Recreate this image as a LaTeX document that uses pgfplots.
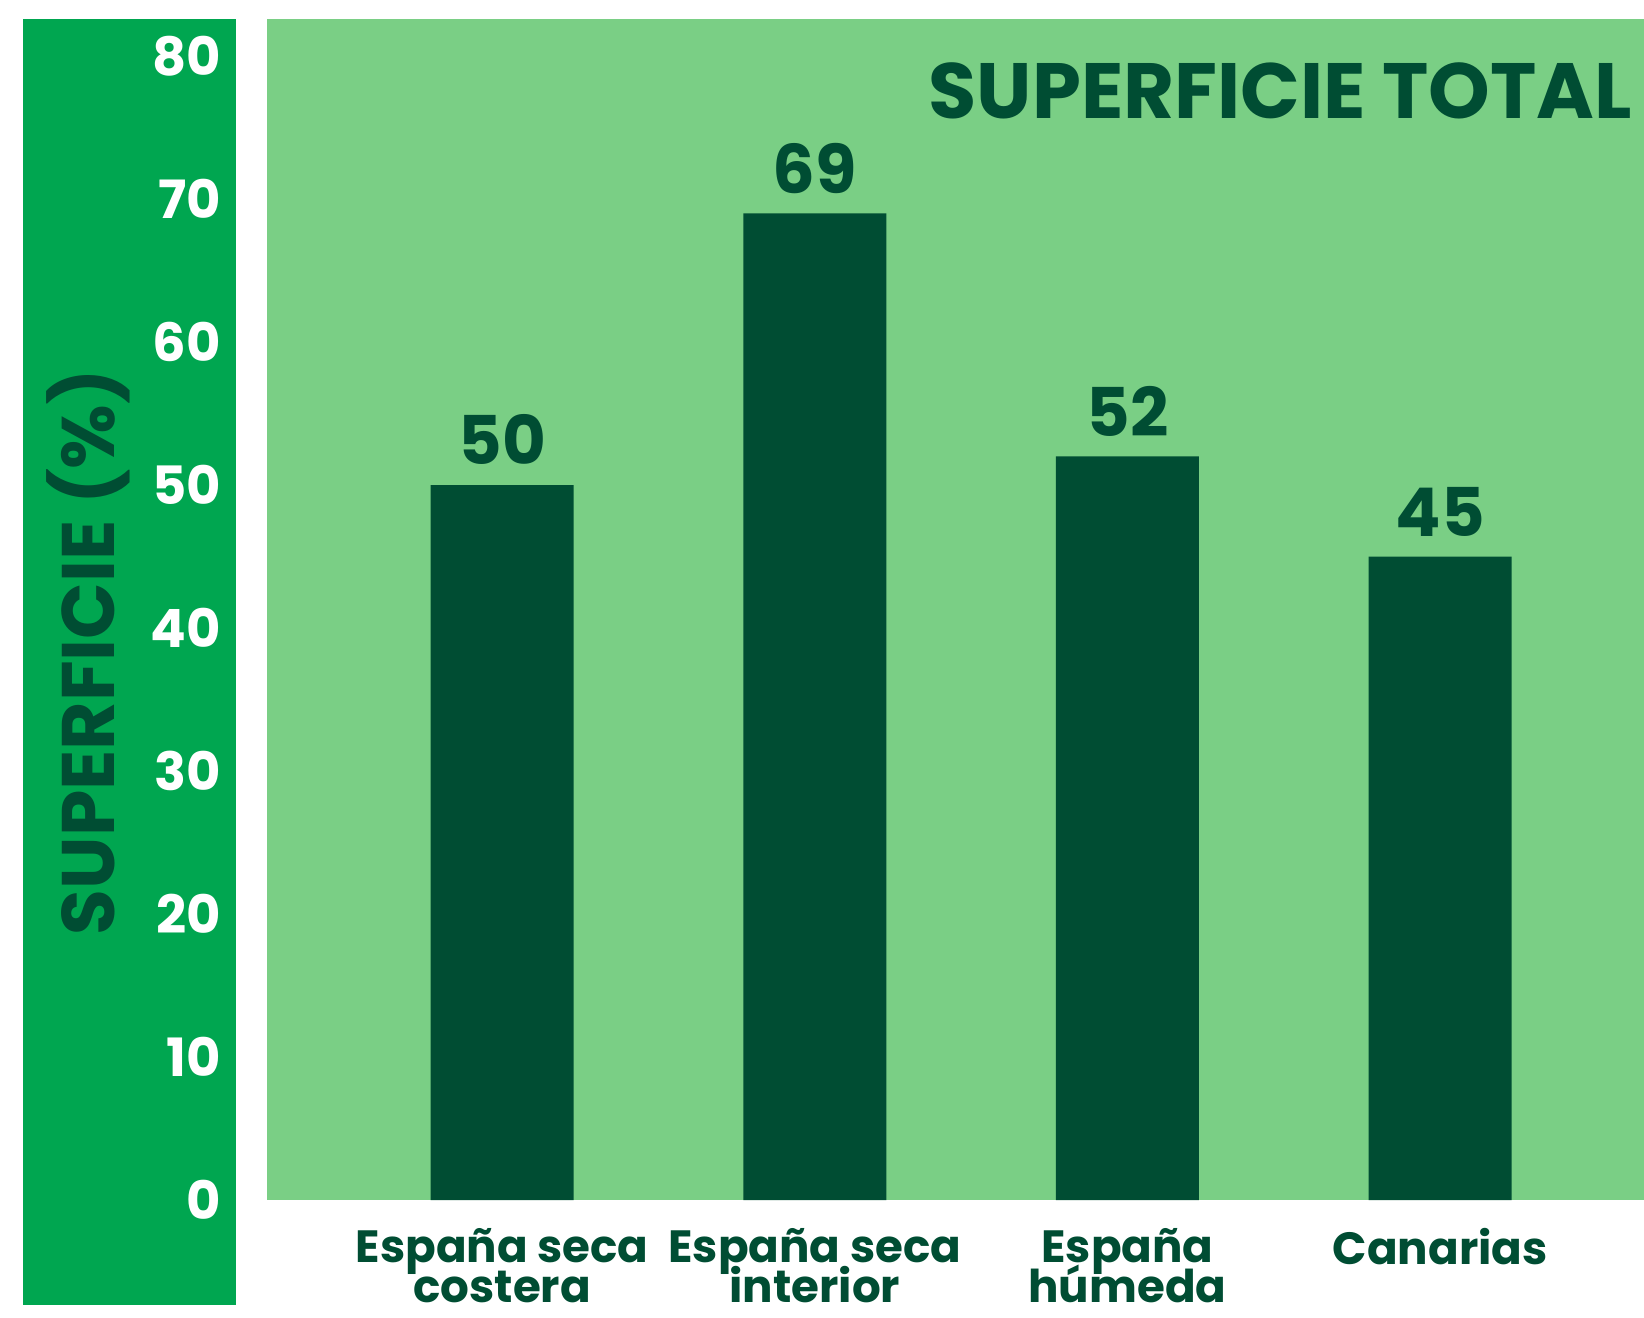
\documentclass[border=0pt]{standalone}
\usepackage{fontspec}
\setmainfont{Poppins}
\usepackage{pgfplots}
\pgfplotsset{compat=1.18}

\definecolor{panelgreen}{HTML}{00A650}
\definecolor{lightgreen}{HTML}{7ACF85}
\definecolor{darkgreen}{HTML}{004D33}

\newcommand\xlabfont{\bfseries\fontsize{11.3}{10}\selectfont\lineskiplimit-20pt\lineskip0pt\relax}

\begin{document}
\begin{tikzpicture}
% 1px of the reference = 0.25pt; axis box SW corner at (0,0)
\useasboundingbox (-66.75pt,-29.25pt) rectangle (344.25pt,300pt);
\fill[panelgreen] (-61pt,-26.25pt) rectangle (-7.75pt,295.25pt);
\begin{axis}[
  at={(0pt,0pt)}, anchor=south west,
  scale only axis,
  width=344.25pt, height=295.25pt,
  ybar, bar width=35.75pt,
  xmin=-0.752, xmax=3.652,
  ymin=0, ymax=82.6,
  axis background/.style={fill=lightgreen},
  axis line style={draw=none},
  major tick length=0pt,
  xtick={0,1,2,3},
  xticklabels={{España seca\\costera},{España seca\\interior},{España\\húmeda},{Canarias}},
  xticklabel style={align=center, anchor=north, yshift=-3.5pt, text=darkgreen,
    font=\xlabfont},
  ytick={0,10,...,80},
  yticklabel style={anchor=east, xshift=-8pt, text=white,
    font=\bfseries\fontsize{13.2}{14}\selectfont},
  /pgf/number format/assume math mode=true,
  ylabel={SUPERFICIE (\%)},
  every axis y label/.style={at={(axis description cs:-0.13,0.464)}, rotate=90, anchor=center,
    text=darkgreen, font=\bfseries\fontsize{18.6}{20}\selectfont},
  title={SUPERFICIE TOTAL},
  title style={at={(axis description cs:1.0015,0.919)}, anchor=east, text=darkgreen,
    font=\bfseries\fontsize{19.6}{21}\selectfont},
  nodes near coords,
  every node near coord/.append style={text=darkgreen, yshift=1.5pt,
    font=\bfseries\fontsize{16.8}{18}\selectfont},
]
\addplot[fill=darkgreen, draw=none] coordinates {(0,50) (1,69) (2,52) (3,45)};
\end{axis}
\end{tikzpicture}
\end{document}
